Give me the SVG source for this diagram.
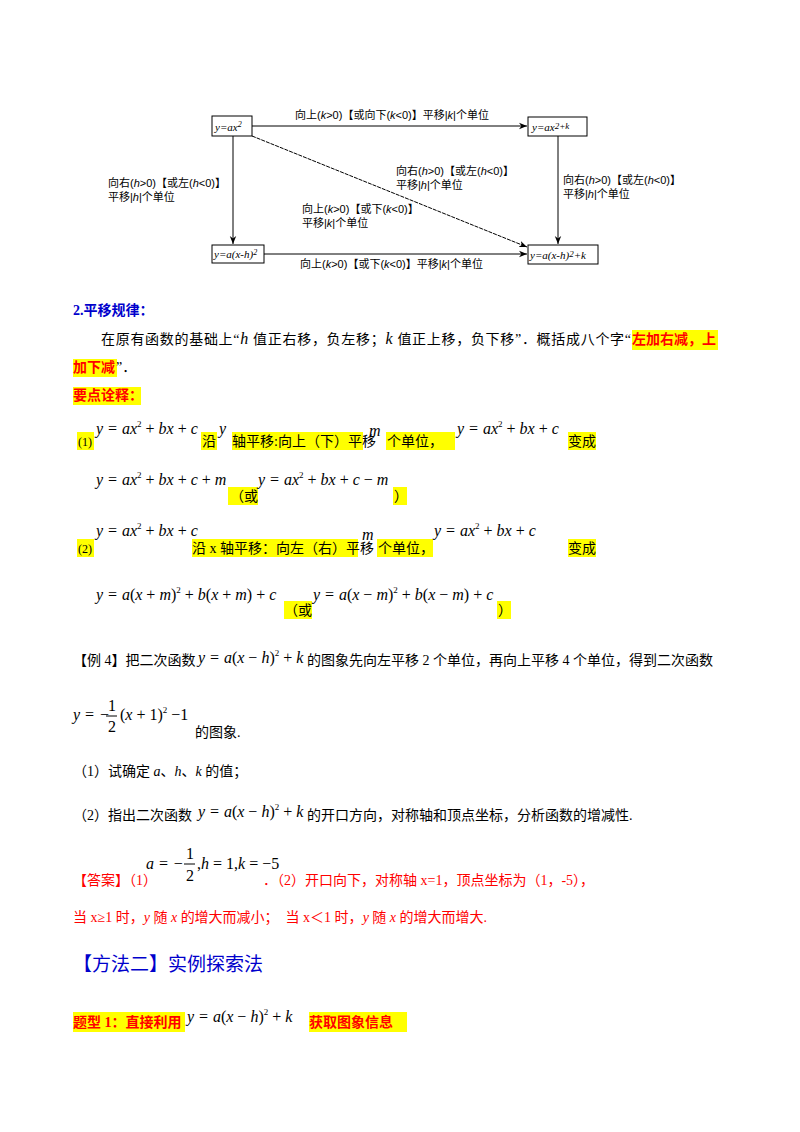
<svg xmlns="http://www.w3.org/2000/svg" width="800" height="1132" viewBox="0 0 800 1132">
<defs>
<style>
text{font-family:"Liberation Serif","Noto Sans CJK SC",serif;font-size:14px;fill:#000}
.d{font-family:"Liberation Sans","Noto Sans CJK SC",sans-serif;font-size:11px}
.m{font-family:"Liberation Serif",serif;font-style:italic;font-size:16px}
.mb{font-family:"Liberation Serif",serif;font-size:16px}
.sm{font-size:11px;font-style:italic;font-family:"Liberation Serif",serif}
.hl{fill:#ffff00}
.r{fill:#ff0000}
.box{fill:#fff;stroke:#000;stroke-width:1}
.ln{stroke:#000;stroke-width:1;fill:none}
</style>
<marker id="ar" viewBox="0 0 10 10" refX="10" refY="5" markerWidth="8" markerHeight="8" orient="auto"><path d="M0,1 L10,5 L0,9 L3,5z" fill="#000"/></marker>
</defs>
<g id="connectors">
<line class="ln" x1="252" y1="126" x2="527" y2="126" marker-end="url(#ar)"/>
<line class="ln" x1="233" y1="136" x2="233" y2="244" marker-end="url(#ar)"/>
<line class="ln" x1="558" y1="136" x2="558" y2="244" marker-end="url(#ar)"/>
<line class="ln" x1="252" y1="136" x2="527" y2="247" stroke-dasharray="4,1" marker-end="url(#ar)"/>
<line class="ln" x1="264" y1="254" x2="527" y2="254" marker-end="url(#ar)"/>
<text class="d" x="295" y="119">向上(<tspan font-style="italic">k</tspan>&gt;0)【或向下(<tspan font-style="italic">k</tspan>&lt;0)】平移|<tspan font-style="italic">k</tspan>|个单位</text>
<text class="d" x="108" y="187">向右(<tspan font-style="italic">h</tspan>&gt;0)【或左(<tspan font-style="italic">h</tspan>&lt;0)】</text>
<text class="d" x="108" y="201">平移|<tspan font-style="italic">h</tspan>|个单位</text>
<text class="d" x="396" y="175">向右(<tspan font-style="italic">h</tspan>&gt;0)【或左(<tspan font-style="italic">h</tspan>&lt;0)】</text>
<text class="d" x="396" y="189">平移|<tspan font-style="italic">h</tspan>|个单位</text>
<text class="d" x="302" y="213">向上(<tspan font-style="italic">k</tspan>&gt;0)【或下(<tspan font-style="italic">k</tspan>&lt;0)】</text>
<text class="d" x="302" y="227">平移|<tspan font-style="italic">k</tspan>|个单位</text>
<text class="d" x="563" y="184">向右(<tspan font-style="italic">h</tspan>&gt;0)【或左(<tspan font-style="italic">h</tspan>&lt;0)】</text>
<text class="d" x="563" y="198">平移|<tspan font-style="italic">h</tspan>|个单位</text>
<text class="d" x="300" y="268">向上(<tspan font-style="italic">k</tspan>&gt;0)【或下(<tspan font-style="italic">k</tspan>&lt;0)】平移|<tspan font-style="italic">k</tspan>|个单位</text>
</g>
<g id="n1"><rect class="box" x="212" y="116" width="40" height="20"/><text class="sm" x="215" y="131">y=ax<tspan font-size="8" dy="-4">2</tspan></text></g>
<g id="n2"><rect class="box" x="528" y="117" width="59" height="19"/><text class="sm" x="532" y="131">y=ax<tspan font-size="9" dy="-2">2+k</tspan></text></g>
<g id="n3"><rect class="box" x="212" y="245" width="52" height="18"/><text class="sm" x="214" y="258">y=a(x-h)<tspan font-size="8" dy="-3">2</tspan></text></g>
<g id="n4"><rect class="box" x="528" y="245" width="70" height="19"/><text class="sm" x="530" y="259">y=a(x-h)<tspan font-size="9" dy="-2">2</tspan><tspan dy="2">+k</tspan></text></g>

<text x="73" y="315" font-weight="bold" style="fill:#0000cc">2.平移规律：</text>
<text x="101" y="344" textLength="530" lengthAdjust="spacing">在原有函数的基础上“<tspan class="m">h</tspan> 值正右移，负左移；<tspan class="m">k</tspan> 值正上移，负下移”．概括成八个字“</text>
<rect class="hl" x="632" y="330" width="86" height="20"/>
<text x="632" y="344" class="r" font-weight="bold">左加右减，上</text>
<rect class="hl" x="73" y="359" width="44" height="18"/>
<text x="73" y="372" class="r" font-weight="bold">加下减</text><text x="116" y="372">”．</text>
<rect class="hl" x="78" y="433" width="0" height="0"/>
<rect class="hl" x="73" y="387" width="68" height="18"/>
<text x="73" y="400" class="r" font-weight="bold">要点诠释：</text>

<rect class="hl" x="77" y="432" width="17" height="18"/><text x="78" y="446" style="font-size:12px">(1)</text>
<text class="m" x="96" y="434">y <tspan class="mb">= </tspan>ax<tspan font-size="9" dy="-7" font-style="normal">2</tspan><tspan dy="7" font-style="normal"> + </tspan>bx<tspan font-style="normal"> + </tspan>c</text>
<rect class="hl" x="201" y="432" width="16" height="18"/><text x="202" y="446">沿</text>
<text class="m" x="219" y="434">y</text>
<rect class="hl" x="232" y="432" width="131" height="18"/><text x="232" y="446">轴平移:向上（下）平移</text>
<text class="m" x="369" y="436">m</text>
<rect class="hl" x="386" y="432" width="69" height="18"/><text x="387" y="446">个单位，</text>
<text class="m" x="457" y="434">y <tspan class="mb">= </tspan>ax<tspan font-size="9" dy="-7" font-style="normal">2</tspan><tspan dy="7" font-style="normal"> + </tspan>bx<tspan font-style="normal"> + </tspan>c</text>
<rect class="hl" x="568" y="432" width="28" height="18"/><text x="568" y="446">变成</text>

<text class="m" x="96" y="485">y <tspan class="mb">= </tspan>ax<tspan font-size="9" dy="-7" font-style="normal">2</tspan><tspan dy="7" font-style="normal"> + </tspan>bx<tspan font-style="normal"> + </tspan>c<tspan font-style="normal"> + </tspan>m</text>
<rect class="hl" x="228" y="487" width="30" height="18"/><text x="230" y="501">（或</text>
<text class="m" x="258" y="485">y <tspan class="mb">= </tspan>ax<tspan font-size="9" dy="-7" font-style="normal">2</tspan><tspan dy="7" font-style="normal"> + </tspan>bx<tspan font-style="normal"> + </tspan>c<tspan font-style="normal"> − </tspan>m</text>
<rect class="hl" x="393" y="487" width="14" height="18"/><text x="394" y="501">）</text>

<rect class="hl" x="77" y="539" width="17" height="18"/><text x="78" y="553" style="font-size:12px">(2)</text>
<text class="m" x="96" y="536">y <tspan class="mb">= </tspan>ax<tspan font-size="9" dy="-7" font-style="normal">2</tspan><tspan dy="7" font-style="normal"> + </tspan>bx<tspan font-style="normal"> + </tspan>c</text>
<rect class="hl" x="192" y="539" width="166" height="18"/><text x="192" y="553">沿 x 轴平移：向左（右）平移</text>
<text class="m" x="362" y="540">m</text>
<rect class="hl" x="377" y="539" width="56" height="18"/><text x="378" y="553">个单位，</text>
<text class="m" x="434" y="536">y <tspan class="mb">= </tspan>ax<tspan font-size="9" dy="-7" font-style="normal">2</tspan><tspan dy="7" font-style="normal"> + </tspan>bx<tspan font-style="normal"> + </tspan>c</text>
<rect class="hl" x="568" y="539" width="28" height="18"/><text x="568" y="553">变成</text>

<text class="m" x="96" y="600">y <tspan class="mb">= </tspan>a<tspan font-style="normal">(</tspan>x<tspan font-style="normal"> + </tspan>m<tspan font-style="normal">)</tspan><tspan font-size="9" dy="-7" font-style="normal">2</tspan><tspan dy="7" font-style="normal"> + </tspan>b<tspan font-style="normal">(</tspan>x<tspan font-style="normal"> + </tspan>m<tspan font-style="normal">) + </tspan>c</text>
<rect class="hl" x="284" y="601" width="28" height="18"/><text x="284" y="615">（或</text>
<text class="m" x="313" y="600">y <tspan class="mb">= </tspan>a<tspan font-style="normal">(</tspan>x<tspan font-style="normal"> − </tspan>m<tspan font-style="normal">)</tspan><tspan font-size="9" dy="-7" font-style="normal">2</tspan><tspan dy="7" font-style="normal"> + </tspan>b<tspan font-style="normal">(</tspan>x<tspan font-style="normal"> − </tspan>m<tspan font-style="normal">) + </tspan>c</text>
<rect class="hl" x="497" y="601" width="14" height="18"/><text x="498" y="615">）</text>

<text x="73" y="665">【例 4】把二次函数</text>
<text class="m" x="198" y="663">y <tspan class="mb">= </tspan>a<tspan font-style="normal">(</tspan>x<tspan font-style="normal"> − </tspan>h<tspan font-style="normal">)</tspan><tspan font-size="9" dy="-7" font-style="normal">2</tspan><tspan dy="7" font-style="normal"> + </tspan>k</text>
<text x="307" y="665">的图象先向左平移 2 个单位，再向上平移 4 个单位，得到二次函数</text>
<text class="m" x="73" y="720">y <tspan class="mb">= −</tspan></text>
<text class="mb" x="108" y="711">1</text><line class="ln" x1="106" y1="716" x2="117" y2="716"/><text class="mb" x="108" y="732">2</text>
<text class="m" x="120" y="720"><tspan font-style="normal">(</tspan>x<tspan font-style="normal"> + 1)</tspan><tspan font-size="9" dy="-7" font-style="normal">2</tspan><tspan dy="7" font-style="normal"> −1</tspan></text>
<text x="195" y="737">的图象.</text>
<text x="73" y="776">（1）试确定 <tspan font-style="italic">a</tspan>、<tspan font-style="italic">h</tspan>、<tspan font-style="italic">k</tspan> 的值；</text>
<text x="73" y="820">（2）指出二次函数</text>
<text class="m" x="198" y="817">y <tspan class="mb">= </tspan>a<tspan font-style="normal">(</tspan>x<tspan font-style="normal"> − </tspan>h<tspan font-style="normal">)</tspan><tspan font-size="9" dy="-7" font-style="normal">2</tspan><tspan dy="7" font-style="normal"> + </tspan>k</text>
<text x="307" y="820">的开口方向，对称轴和顶点坐标，分析函数的增减性.</text>

<text x="73" y="885" class="r">【答案】（1）</text>
<text class="m" x="146" y="869">a <tspan class="mb">= −</tspan></text>
<text class="mb" x="186" y="859">1</text><line class="ln" x1="184" y1="864" x2="195" y2="864"/><text class="mb" x="186" y="881">2</text>
<text class="m" x="197" y="869"><tspan font-style="normal">,</tspan>h<tspan font-style="normal"> = 1,</tspan>k<tspan font-style="normal"> = −5</tspan></text>
<text x="263" y="885" class="r">．（2）开口向下，对称轴 x=1，顶点坐标为（1，-5），</text>
<text x="73" y="922" class="r">当 x≥1 时，<tspan font-style="italic">y</tspan> 随 <tspan font-style="italic">x</tspan> 的增大而减小；　当 x＜1 时，<tspan font-style="italic">y</tspan> 随 <tspan font-style="italic">x</tspan> 的增大而增大.</text>

<text x="73" y="971" style="font-size:19px;fill:#0000cc">【方法二】实例探索法</text>

<rect class="hl" x="73" y="1012" width="112" height="20"/><text x="73" y="1027" class="r" font-weight="bold">题型 1：直接利用</text>
<text class="m" x="187" y="1022">y <tspan class="mb">= </tspan>a<tspan font-style="normal">(</tspan>x<tspan font-style="normal"> − </tspan>h<tspan font-style="normal">)</tspan><tspan font-size="9" dy="-7" font-style="normal">2</tspan><tspan dy="7" font-style="normal"> + </tspan>k</text>
<rect class="hl" x="309" y="1012" width="98" height="20"/><text x="309" y="1027" class="r" font-weight="bold">获取图象信息</text>
</svg>
